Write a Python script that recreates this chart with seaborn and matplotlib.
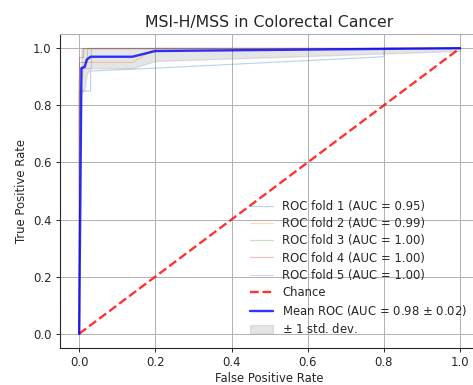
import numpy as np
import pandas as pd
import matplotlib
matplotlib.use("Agg")
import matplotlib.pyplot as plt
import seaborn as sns

# ---- data ----
fold_labels = ["ROC fold 1 (AUC = 0.95)", "ROC fold 2 (AUC = 0.99)", "ROC fold 3 (AUC = 1.00)",
               "ROC fold 4 (AUC = 1.00)", "ROC fold 5 (AUC = 1.00)"]
fold1_fpr = [0, 0, 0.03, 0.03, 0.2, 0.8, 0.8, 1]
fold1_tpr = [0, 0.85, 0.85, 0.92, 0.93, 0.97, 1, 1]
fold2_fpr = [0, 0, 0.01, 0.01, 0.14, 0.2, 1]
fold2_tpr = [0, 0.9, 0.9, 0.95, 0.95, 1, 1]
fold3_fpr = [0, 0, 0.02, 0.02, 1]
fold3_tpr = [0, 0.95, 0.95, 1, 1]
fold4_fpr = [0, 0, 0.01, 0.01, 1]
fold4_tpr = [0, 0.97, 0.97, 1, 1]
fold5_fpr = [0, 0, 0.03, 0.03, 1]
fold5_tpr = [0, 0.93, 0.93, 1, 1]

mean_fpr = [0, 0.006, 0.015, 0.02, 0.03, 0.14, 0.2, 1.0]
mean_tpr = [0, 0.93, 0.935, 0.96, 0.97, 0.97, 0.99, 1.0]
std_lower = [0, 0.84, 0.86, 0.91, 0.93, 0.93, 0.955, 0.99]
std_upper = [0, 1.0, 1.0, 1.0, 1.0, 1.0, 1.0, 1.0]

chance = [0, 1]
mean_label = "Mean ROC (AUC = 0.98 $\\pm$ 0.02)"
title = "MSI-H/MSS in Colorectal Cancer"

# ---- plot ----
sns.set_style("ticks")
plt.rcParams["font.family"] = ["DejaVu Sans"]
fs = 8.4

fig = plt.figure(figsize=(4.73, 3.85), dpi=100)
ax = fig.add_axes([0.127, 0.096, 0.886, 0.816])

folds = [(fold1_fpr, fold1_tpr), (fold2_fpr, fold2_tpr), (fold3_fpr, fold3_tpr),
         (fold4_fpr, fold4_tpr), (fold5_fpr, fold5_tpr)]
colors = sns.color_palette("tab10")
for i, ((f, t), lab) in enumerate(zip(folds, fold_labels)):
    sns.lineplot(x=f, y=t, ax=ax, sort=False, estimator=None, color=colors[i],
                 alpha=0.3, lw=0.85, label=lab)

sns.lineplot(x=chance, y=chance, ax=ax, sort=False, estimator=None, color="r",
             lw=1.7, alpha=0.8, label="Chance")
ax.lines[-1].set_linestyle("--")

sns.lineplot(x=mean_fpr, y=mean_tpr, ax=ax, sort=False, estimator=None, color="b",
             lw=1.7, alpha=0.8, label=mean_label)
ax.fill_between(mean_fpr, std_lower, std_upper, color="grey", alpha=0.2,
                label=r"$\pm$ 1 std. dev.")

ax.set_xlim(-0.05, 1.05)
ax.set_ylim(-0.05, 1.05)
ax.set_xticks([0, 0.2, 0.4, 0.6, 0.8, 1.0])
ax.set_yticks([0, 0.2, 0.4, 0.6, 0.8, 1.0])
ax.tick_params(labelsize=fs, length=3, width=0.7, pad=3)
ax.grid(True, color="#b0b0b0", lw=0.7)
ax.set_xlabel("False Positive Rate", fontsize=fs, labelpad=2)
ax.set_ylabel("True Positive Rate", fontsize=fs, labelpad=4)
ax.set_title(title, fontsize=11.3, pad=5)
ax.legend(loc="lower right", fontsize=fs, frameon=False, labelspacing=0.36,
          borderaxespad=0.6)
for s in ax.spines.values():
    s.set_linewidth(0.8)
ax.spines["top"].set_color("#b0b0b0")

fig.savefig("out.png", dpi=100)
